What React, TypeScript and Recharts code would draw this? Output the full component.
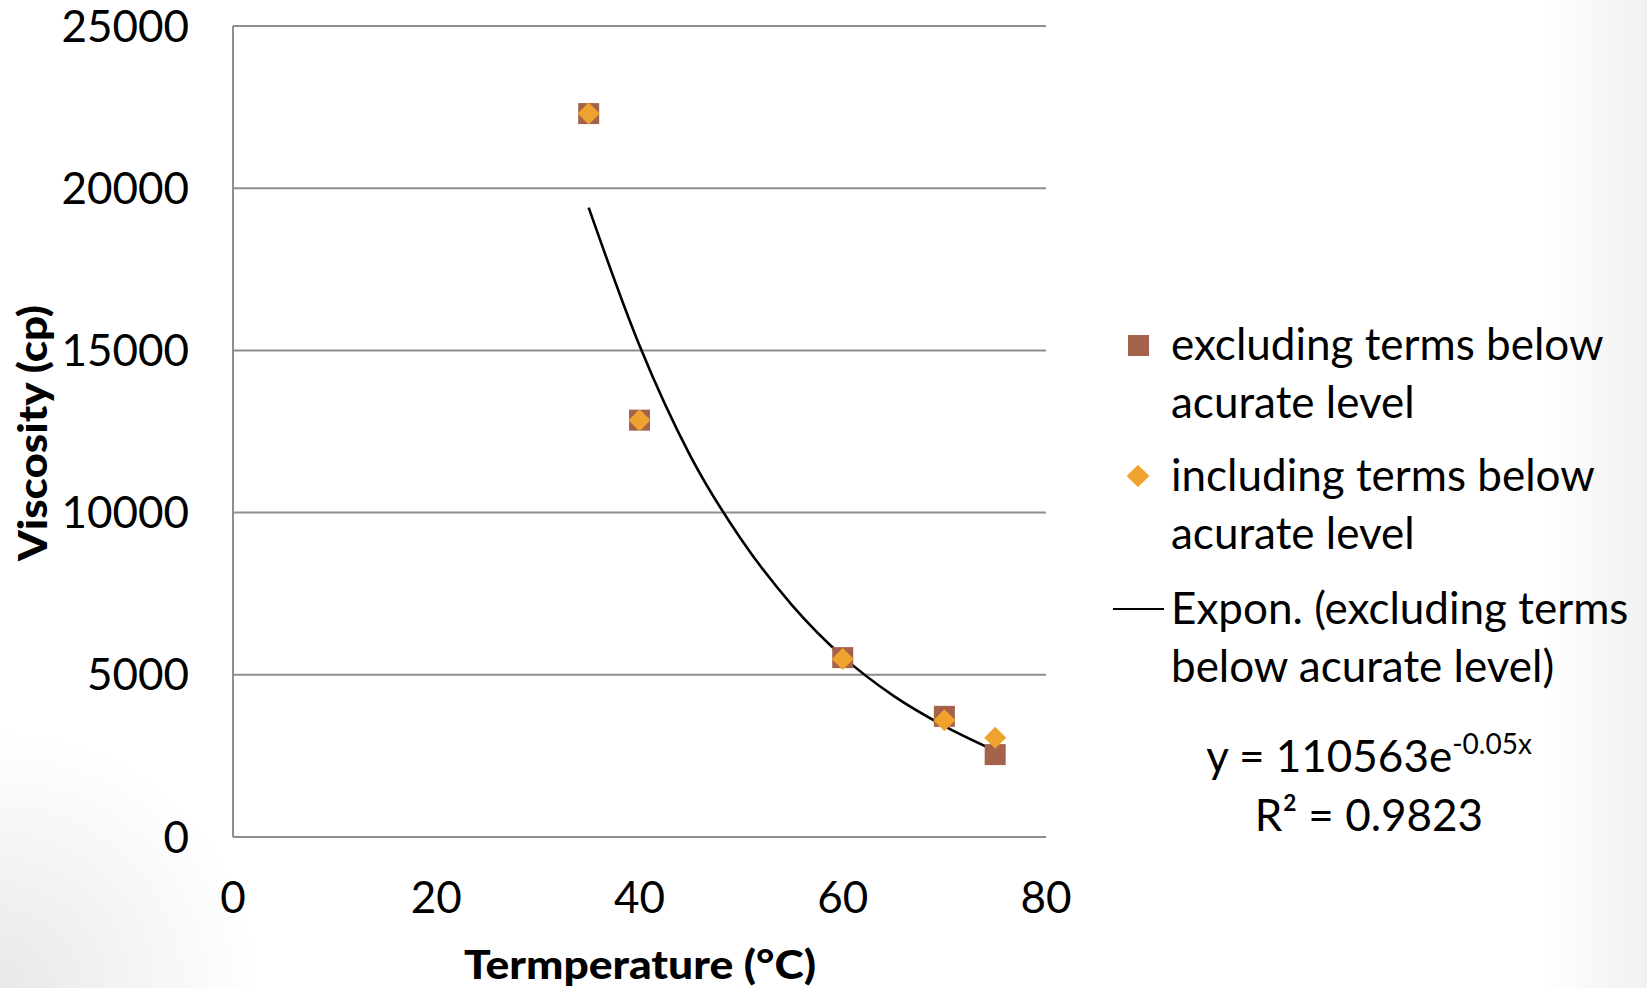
import React from "react";
import {
  ComposedChart,
  Scatter,
  Line,
  XAxis,
  YAxis,
  CartesianGrid,
} from "recharts";

// temperature (°C) of the measured points
const temperature = [35, 40, 60, 70, 75];
// viscosity (cp)
const viscosityExcluding = [22300, 12850, 5530, 3720, 2540];
const viscosityIncluding = [22300, 12850, 5490, 3600, 3060];

// exponential trendline
const trendTemp = [35, 40, 45, 50, 55, 60, 65, 70, 75];
const trendViscosity = [19400, 15150, 11750, 9180, 7150, 5560, 4350, 3420, 2660];

const xTicks = [0, 20, 40, 60, 80];
const yTicks = [0, 5000, 10000, 15000, 20000, 25000];

const SQUARE = "#A5624B";
const DIAMOND = "#F0A22E";
const GRID = "#8e8e8e";
const FONT = "Lato, 'Open Sans', sans-serif";

const excluding = temperature.map((x, i) => ({ x, y: viscosityExcluding[i] }));
const including = temperature.map((x, i) => ({ x, y: viscosityIncluding[i] }));
const trend = trendTemp.map((x, i) => ({ x, y: trendViscosity[i] }));

const Square = (p: any) => (
  <rect x={p.cx - 10.5} y={p.cy - 10.5} width={21} height={21} fill={SQUARE} />
);
const Diamond = (p: any) => {
  const r = 11;
  return (
    <polygon
      points={`${p.cx},${p.cy - r} ${p.cx + r},${p.cy} ${p.cx},${p.cy + r} ${p.cx - r},${p.cy}`}
      fill={DIAMOND}
    />
  );
};

const legendText: React.CSSProperties = {
  fontFamily: FONT,
  fontSize: 44,
  lineHeight: "58px",
  color: "#000",
  whiteSpace: "nowrap",
};

function ChartLegend() {
  return (
    <div style={{ position: "absolute", left: 1120, top: 314, width: 527, height: 560 }}>
      <div style={{ position: "absolute", left: 0, top: 0, display: "flex" }}>
        <div style={{ width: 51, height: 58, position: "relative" }}>
          <div style={{ position: "absolute", left: 8, top: 21, width: 21, height: 21, background: SQUARE }} />
        </div>
        <div style={legendText}>
          excluding terms below
          <br />
          acurate level
        </div>
      </div>
      <div style={{ position: "absolute", left: 0, top: 131, display: "flex" }}>
        <div style={{ width: 51, height: 58, position: "relative" }}>
          <div
            style={{
              position: "absolute",
              left: 10,
              top: 23,
              width: 16,
              height: 16,
              background: DIAMOND,
              transform: "rotate(45deg)",
            }}
          />
        </div>
        <div style={legendText}>
          including terms below
          <br />
          acurate level
        </div>
      </div>
      <div style={{ position: "absolute", left: 0, top: 264, display: "flex" }}>
        <div style={{ width: 51, height: 58, position: "relative" }}>
          <div style={{ position: "absolute", left: -7, top: 30, width: 51, height: 2, background: "#000" }} />
        </div>
        <div style={legendText}>
          Expon. (excluding terms
          <br />
          below acurate level)
        </div>
      </div>
      <div
        style={{
          ...legendText,
          position: "absolute",
          left: 49,
          top: 412,
          width: 400,
          textAlign: "center",
          lineHeight: "59px",
        }}
      >
        y = 110563e<sup style={{ fontSize: 28, verticalAlign: "0.65em", lineHeight: 0 }}>-0.05x</sup>
        <br />
        R² = 0.9823
      </div>
    </div>
  );
}

export default function App() {
  return (
    <div
      style={{
        position: "absolute",
        left: 0,
        top: 0,
        width: 1647,
        height: 988,
        background:
          "radial-gradient(circle at 0 100%, rgba(0,0,0,0.09) 0px, rgba(0,0,0,0) 260px), linear-gradient(to right, rgba(0,0,0,0) 1540px, rgba(0,0,0,0.06) 1647px), #fff",
      }}
    >
      <ComposedChart
        width={1647}
        height={988}
        margin={{ top: 26, right: 601, bottom: 0, left: 0 }}
        style={{ fontFamily: FONT }}
      >
        <CartesianGrid vertical={false} stroke={GRID} strokeWidth={2} />
        <XAxis
          type="number"
          dataKey="x"
          domain={[0, 80]}
          ticks={xTicks}
          interval={0}
          height={151}
          axisLine={{ stroke: GRID, strokeWidth: 2 }}
          tickLine={false}
          tickSize={0}
          tickMargin={45}
          tick={{ fill: "#000", fontSize: 44, fontFamily: FONT }}
          label={{
            content: () => (
              <text
                x={640}
                y={979}
                textAnchor="middle"
                fontFamily={FONT}
                fontWeight={900}
                fontSize={40}
                textLength={352}
                lengthAdjust="spacingAndGlyphs"
                fill="#000"
              >
                Termperature (°C)
              </text>
            ),
          }}
        />
        <YAxis
          type="number"
          dataKey="y"
          domain={[0, 25000]}
          ticks={yTicks}
          interval={0}
          width={233}
          axisLine={{ stroke: GRID, strokeWidth: 2 }}
          tickLine={false}
          tickSize={0}
          tickMargin={44}
          tick={{ fill: "#000", fontSize: 44, fontFamily: FONT }}
          label={{
            content: () => (
              <text
                x={47}
                y={433}
                transform="rotate(-90 47 433)"
                textAnchor="middle"
                fontFamily={FONT}
                fontWeight={900}
                fontSize={39}
                textLength={256}
                lengthAdjust="spacingAndGlyphs"
                fill="#000"
              >
                Viscosity (cp)
              </text>
            ),
          }}
        />
        <Scatter
          name="excluding terms below acurate level"
          data={excluding}
          dataKey="y"
          shape={Square}
          isAnimationActive={false}
        />
        <Scatter
          name="including terms below acurate level"
          data={including}
          dataKey="y"
          shape={Diamond}
          isAnimationActive={false}
        />
        <Line
          name="Expon. (excluding terms below acurate level)"
          data={trend}
          dataKey="y"
          type="monotone"
          stroke="#000"
          strokeWidth={2.6}
          dot={false}
          activeDot={false}
          isAnimationActive={false}
        />
      </ComposedChart>
      <ChartLegend />
    </div>
  );
}
